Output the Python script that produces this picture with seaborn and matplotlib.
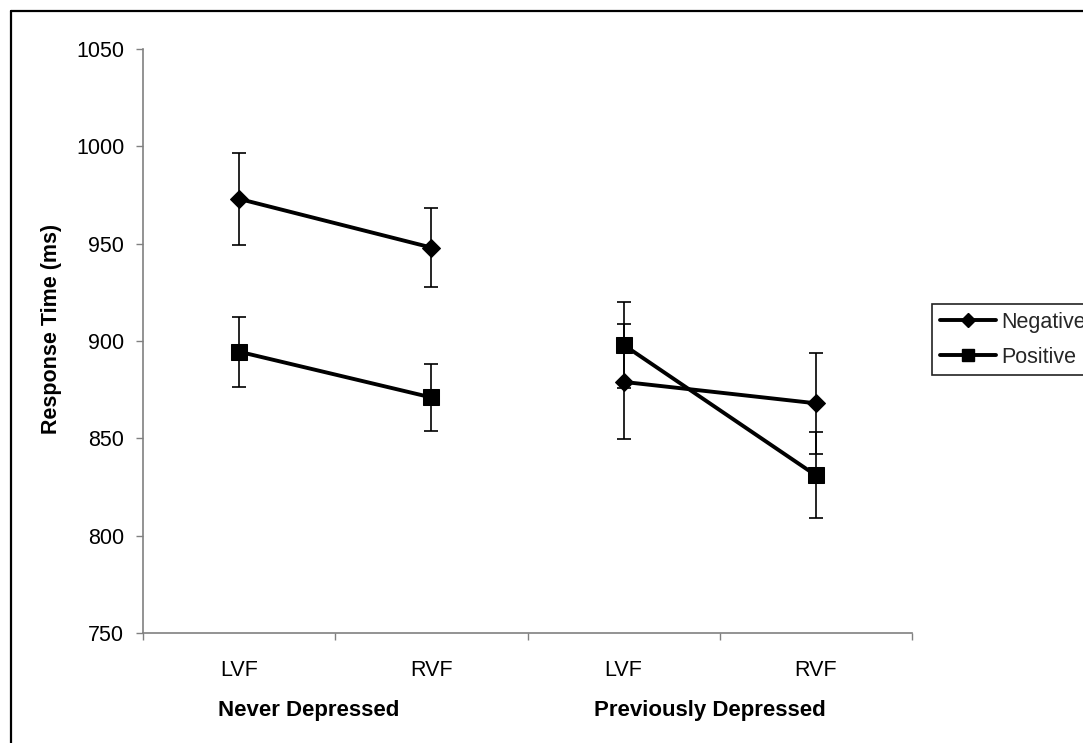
import numpy as np
import pandas as pd
import matplotlib
matplotlib.use("Agg")
import matplotlib.pyplot as plt
import matplotlib.transforms as mtransforms
from matplotlib.lines import Line2D
import seaborn as sns

# ---- data ----
groups = ["Never Depressed", "Never Depressed", "Previously Depressed", "Previously Depressed"]
fields = ["LVF", "RVF", "LVF", "RVF"]
negative = [973, 948, 879, 868]
negative_err = [23.5, 20.5, 29.5, 26]
positive = [894.5, 871, 898, 831]
positive_err = [18, 17, 22, 22]
group_names = ["Never Depressed", "Previously Depressed"]
y_ticks = [750, 800, 850, 900, 950, 1000, 1050]

sns.set_theme(style="white")
plt.rcParams["font.family"] = ["Liberation Sans", "DejaVu Sans"]

pos = np.arange(len(fields))
df = pd.DataFrame({
    "x": np.concatenate([pos, pos]),
    "value": negative + positive,
    "err": negative_err + positive_err,
    "series": ["Negative"] * 4 + ["Positive"] * 4,
    "group": groups + groups,
})

fig = plt.figure(figsize=(10.83, 7.43), dpi=100)
ax = fig.add_axes([143 / 1083, 1 - 633 / 743, (912 - 143) / 1083, (633 - 49) / 743])

styles = {"Negative": ("D", 9.0), "Positive": ("s", 12.0)}
for name, (mk, ms) in styles.items():
    sub = df[df["series"] == name]
    ax.errorbar(sub["x"], sub["value"], yerr=sub["err"], fmt="none",
                ecolor="black", elinewidth=1.2, capsize=5, capthick=1.2, zorder=1)
    sns.lineplot(data=sub, x="x", y="value", units="group", estimator=None,
                 color="black", linewidth=2.8, marker=mk, markersize=ms,
                 markeredgecolor="black", markerfacecolor="black",
                 legend=False, ax=ax, zorder=3)

ax.set_xlim(-0.5, 3.5)
ax.set_ylim(750, 1050)
ax.set_yticks(y_ticks)
ax.set_yticklabels([str(t) for t in y_ticks], fontsize=15.5, color="black")

ax.set_xticks([-0.5, 0.5, 1.5, 2.5, 3.5])
ax.set_xticklabels([])
ax.set_xticks(pos, minor=True)
ax.set_xticklabels(fields, minor=True, fontsize=15.5, color="black")
ax.tick_params(axis="x", which="major", direction="out", length=5, width=1, color="#808080", bottom=True)
ax.tick_params(axis="x", which="minor", length=0, pad=19.5)
ax.tick_params(axis="y", direction="out", length=5, width=1, color="#808080", pad=8.5, left=True)

for s in ["top", "right"]:
    ax.spines[s].set_visible(False)
for s in ["left", "bottom"]:
    ax.spines[s].set_color("#808080")
    ax.spines[s].set_linewidth(1.2)

ax.set_xlabel("")
ax.set_ylabel("Response Time (ms)", fontsize=15.5, fontweight="bold", color="black")
ax.yaxis.set_label_coords(-0.105, 0.52)

trans = mtransforms.blended_transform_factory(ax.transData, ax.transAxes)
for gx, gname in zip([0.36, 2.45], group_names):
    ax.text(gx, -0.132, gname, transform=trans, ha="center", va="center",
            fontsize=16, fontweight="bold", color="black")

handles = [
    Line2D([], [], color="black", linewidth=2.8, marker="D", markersize=7),
    Line2D([], [], color="black", linewidth=2.8, marker="s", markersize=9),
]
leg = fig.legend(handles, ["Negative", "Positive"], loc="upper left",
                 bbox_to_anchor=(932 / 1083, 1 - 304 / 743), bbox_transform=fig.transFigure,
                 fontsize=15.5, frameon=True, fancybox=False, framealpha=1,
                 edgecolor="#222222", borderaxespad=0, borderpad=0.35,
                 handlelength=2.6, handletextpad=0.25, labelspacing=0.65)
leg.get_frame().set_linewidth(1.2)

# figure border (left and top edges visible)
fig.add_artist(Line2D([11 / 1083, 11 / 1083], [0, 1 - 11 / 743], transform=fig.transFigure,
                      color="black", linewidth=1.6))
fig.add_artist(Line2D([11 / 1083, 1], [1 - 11 / 743, 1 - 11 / 743], transform=fig.transFigure,
                      color="black", linewidth=1.6))

fig.savefig("out.png", dpi=100)
